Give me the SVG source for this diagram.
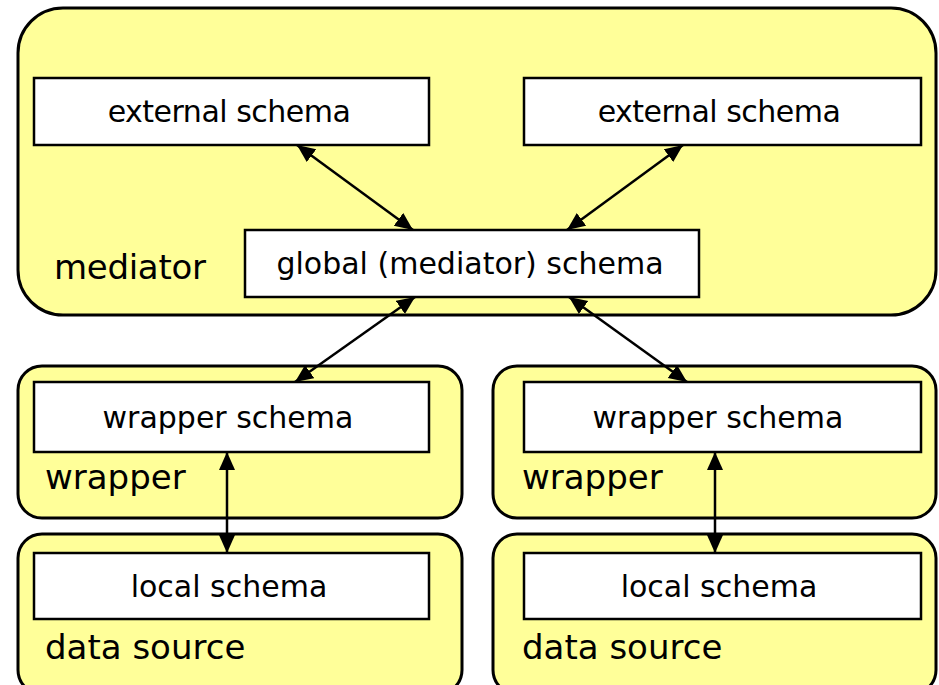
<svg xmlns="http://www.w3.org/2000/svg" width="939" height="685" viewBox="0 0 939 685">
  <defs>
    <style>
      .container { fill: #FFFF99; stroke: #000; stroke-width: 3; }
      .schema { fill: #FFFFFF; stroke: #000; stroke-width: 2.5; }
      .schema-text { font-family: "DejaVu Sans", Verdana, sans-serif; font-size: 30px; fill: #000; text-anchor: middle; }
      .label { font-family: "DejaVu Sans", Verdana, sans-serif; font-size: 34px; fill: #000; }
      .link { stroke: #000; stroke-width: 2.5; fill: none; marker-start: url(#head); marker-end: url(#head); }
    </style>
    <marker id="head" markerUnits="userSpaceOnUse" markerWidth="20" markerHeight="18" refX="18" refY="8" orient="auto-start-reverse">
      <path d="M0,0 L18,8 L0,16 z" fill="#000"/>
    </marker>
  </defs>

  <!-- mediator layer -->
  <g id="mediator">
    <rect class="container" x="18" y="8" width="918" height="307" rx="45" ry="45"/>
    <text class="label" x="54" y="279" letter-spacing="-0.3">mediator</text>
  </g>
  <g id="external-schema-left">
    <rect class="schema" x="34" y="78" width="395" height="67"/>
    <text class="schema-text" x="229" y="122" letter-spacing="-0.5">external schema</text>
  </g>
  <g id="external-schema-right">
    <rect class="schema" x="524" y="78" width="397" height="67"/>
    <text class="schema-text" x="719" y="122" letter-spacing="-0.5">external schema</text>
  </g>
  <g id="global-schema">
    <rect class="schema" x="245" y="230" width="454" height="67"/>
    <text class="schema-text" x="470" y="274">global (mediator) schema</text>
  </g>

  <!-- wrapper layer -->
  <g id="wrapper-left">
    <rect class="container" x="18" y="366" width="444" height="152" rx="24" ry="24"/>
    <text class="label" x="45" y="489">wrapper</text>
  </g>
  <g id="wrapper-schema-left">
    <rect class="schema" x="34" y="382" width="395" height="70"/>
    <text class="schema-text" x="228" y="428">wrapper schema</text>
  </g>
  <g id="wrapper-right">
    <rect class="container" x="493" y="366" width="443" height="152" rx="24" ry="24"/>
    <text class="label" x="522" y="489">wrapper</text>
  </g>
  <g id="wrapper-schema-right">
    <rect class="schema" x="524" y="382" width="397" height="70"/>
    <text class="schema-text" x="718" y="428">wrapper schema</text>
  </g>

  <!-- data source layer -->
  <g id="data-source-left">
    <rect class="container" x="18" y="534" width="444" height="160" rx="24" ry="24"/>
    <text class="label" x="45" y="659">data source</text>
  </g>
  <g id="local-schema-left">
    <rect class="schema" x="34" y="553" width="395" height="66"/>
    <text class="schema-text" x="229" y="597">local schema</text>
  </g>
  <g id="data-source-right">
    <rect class="container" x="493" y="534" width="443" height="160" rx="24" ry="24"/>
    <text class="label" x="522" y="659">data source</text>
  </g>
  <g id="local-schema-right">
    <rect class="schema" x="524" y="553" width="397" height="66"/>
    <text class="schema-text" x="719" y="597">local schema</text>
  </g>

  <!-- two-way connectors -->
  <g id="connectors">
    <line class="link" x1="297" y1="145" x2="413" y2="230"/>
    <line class="link" x1="683" y1="145" x2="567" y2="230"/>
    <line class="link" x1="415" y1="297" x2="295" y2="382"/>
    <line class="link" x1="569" y1="297" x2="687" y2="382"/>
    <line class="link" x1="227" y1="452" x2="227" y2="553"/>
    <line class="link" x1="715" y1="452" x2="715" y2="553"/>
  </g>
</svg>
